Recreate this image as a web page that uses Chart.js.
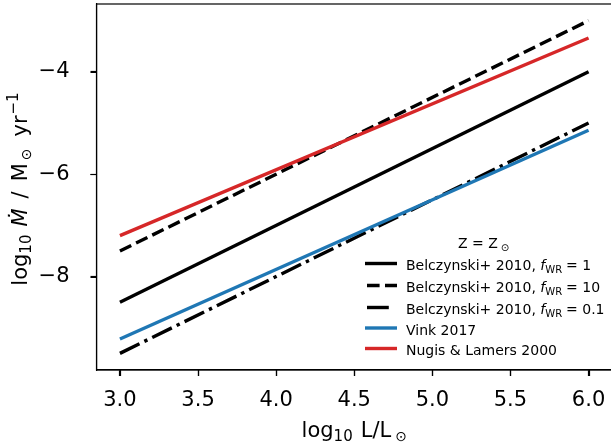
<!DOCTYPE html>
<html>
<head>
<meta charset="utf-8">
<script src="https://cdn.jsdelivr.net/npm/chart.js@4.4.0/dist/chart.umd.min.js"></script>
<style>
  html, body { margin: 0; padding: 0; background: #fff; overflow: hidden; }
</style>
</head>
<body>
<canvas id="chart" width="612" height="445"></canvas>
<script>
// log10 L/Lsun at the two ends of each line
const xPoints = [3.0, 6.0];
// log10 Mdot for each prescription
const belczynskiF1 = [-8.5, -4.0];
const belczynskiF10 = [-7.5, -3.0];
const belczynskiF01 = [-9.5, -5.0];
const vink2017 = [-9.22, -5.14];
const nugisLamers2000 = [-7.2, -3.34];

const seriesNames = ['Belczynski+ 2010', 'Belczynski+ 2010', 'Belczynski+ 2010', 'Vink 2017', 'Nugis & Lamers 2000'];
const fwrValues = ['1', '10', '0.1', null, null];
const xTicks = [3.0, 3.5, 4.0, 4.5, 5.0, 5.5, 6.0];
const yTicks = [-8, -6, -4];
const xRange = [2.85, 6.15];
const yRange = [-9.825, -2.675];

const FONT = '"DejaVu Sans", sans-serif';
const seriesValues = [belczynskiF1, belczynskiF10, belczynskiF01, vink2017, nugisLamers2000];
const seriesColors = ['#000000', '#000000', '#000000', '#1f77b4', '#d62728'];
const seriesDash = [[], [12.6, 5.4], [21.8, 5.4, 3.4, 5.4], [], []];
const LW = 3.4;

const datasets = seriesValues.map((vals, i) => ({
  label: seriesNames[i],
  data: xPoints.map((x, j) => ({ x: x, y: vals[j] })),
  borderColor: seriesColors[i],
  borderWidth: LW,
  borderDash: seriesDash[i],
  borderCapStyle: 'butt',
  pointRadius: 0,
  tension: 0,
  fill: false,
  order: 10 - i
}));

function fontOf(r) {
  return (r.it ? 'italic ' : '') + r.s + 'px ' + FONT;
}

// draw a row of text pieces (for sub/superscripts)
function drawRuns(ctx, runs, x, y, align) {
  let total = 0;
  runs.forEach(r => {
    ctx.font = fontOf(r);
    r.w = ctx.measureText(r.t).width;
    total += r.w + (r.gap || 0);
  });
  let cx = align === 'center' ? x - total / 2 : x;
  runs.forEach(r => {
    cx += r.gap || 0;
    ctx.font = fontOf(r);
    ctx.fillText(r.t, cx, y + (r.dy || 0));
    cx += r.w;
  });
}

const extras = {
  id: 'extras',
  afterDraw(chart) {
    const ctx = chart.ctx;
    const a = chart.chartArea;
    const sx = chart.scales.x, sy = chart.scales.y;
    ctx.save();
    // spines
    ctx.strokeStyle = '#000';
    ctx.lineWidth = 1.2;
    ctx.strokeRect(a.left, a.top, a.right - a.left, a.bottom - a.top);

    // tick marks
    ctx.beginPath();
    xTicks.forEach(v => {
      const px = Math.round(sx.getPixelForValue(v)) + 0.5;
      ctx.moveTo(px, a.bottom);
      ctx.lineTo(px, a.bottom + 6);
    });
    yTicks.forEach(v => {
      const py = Math.round(sy.getPixelForValue(v)) + 0.5;
      ctx.moveTo(a.left - 6, py);
      ctx.lineTo(a.left, py);
    });
    ctx.stroke();

    ctx.fillStyle = '#000';
    ctx.textBaseline = 'alphabetic';
    ctx.textAlign = 'left';

    // x title
    drawRuns(ctx, [
      { t: 'log', s: 21 },
      { t: '10', s: 15, dy: 4 },
      { t: 'L/L', s: 21, gap: 8 },
      { t: '\u2299', s: 14, dy: 4, gap: 4 }
    ], (a.left + a.right) / 2, 437, 'center');

    // y title
    ctx.save();
    ctx.translate(27, (a.top + a.bottom) / 2 + 2);
    ctx.rotate(-Math.PI / 2);
    drawRuns(ctx, [
      { t: 'log', s: 21 },
      { t: '10', s: 15, dy: 4 },
      { t: '\u1E40', s: 21, it: true, gap: 8 },
      { t: '/', s: 21, gap: 10 },
      { t: 'M', s: 21, gap: 10 },
      { t: '\u2299', s: 14, dy: 4, gap: 3 },
      { t: 'yr', s: 21, gap: 12 },
      { t: '\u22121', s: 15, dy: -9, gap: 1 }
    ], 0, 0, 'center');
    ctx.restore();

    // legend (no frame)
    ctx.fillStyle = '#000';
    drawRuns(ctx, [
      { t: 'Z = Z', s: 14 },
      { t: '\u2299', s: 10, dy: 3, gap: 3 }
    ], 483.5, 248, 'center');

    const rowY = [265, 287, 309, 329.5, 350];
    seriesNames.forEach((name, i) => {
      const y = rowY[i];
      const dash = seriesDash[i];
      ctx.strokeStyle = seriesColors[i];
      ctx.lineWidth = LW;
      ctx.lineCap = 'butt';
      ctx.setLineDash(dash);
      ctx.lineDashOffset = dash.length ? -2 : 0;
      ctx.beginPath();
      ctx.moveTo(365, y - 1.5);
      ctx.lineTo(dash.length === 4 ? 391 : 397, y - 1.5);
      ctx.stroke();
      ctx.setLineDash([]);

      ctx.fillStyle = '#000';
      const runs = [{ t: name + (fwrValues[i] ? ', ' : ''), s: 14 }];
      if (fwrValues[i]) {
        runs.push({ t: 'f', s: 14, it: true });
        runs.push({ t: 'WR', s: 10, dy: 3 });
        runs.push({ t: '= ' + fwrValues[i], s: 14, gap: 4 });
      }
      drawRuns(ctx, runs, 406, y + 5, 'left');
    });
    ctx.restore();
  }
};

const tickFont = { family: FONT, size: 21 };
const gridOpts = {
  display: true, drawOnChartArea: false, drawTicks: true,
  tickLength: 6, tickWidth: 1.2, tickColor: '#000'
};

new Chart(document.getElementById('chart'), {
  type: 'line',
  data: { datasets: datasets },
  plugins: [extras],
  options: {
    responsive: false,
    animation: false,
    layout: { padding: { top: 4, right: 0, bottom: 0, left: 0 } },
    plugins: { legend: { display: false }, tooltip: { enabled: false } },
    scales: {
      x: {
        type: 'linear',
        min: xRange[0],
        max: xRange[1],
        afterBuildTicks: s => { s.ticks = xTicks.map(v => ({ value: v })); },
        afterFit: s => { s.height = 75; s.paddingLeft = 0; s.paddingRight = 0; },
        ticks: {
          callback: v => v.toFixed(1),
          font: tickFont, color: '#000', padding: 12,
          maxRotation: 0, autoSkip: false
        },
        grid: gridOpts,
        border: { color: '#000', width: 1.2 }
      },
      y: {
        type: 'linear',
        min: yRange[0],
        max: yRange[1],
        afterBuildTicks: s => { s.ticks = yTicks.map(v => ({ value: v })); },
        afterFit: s => { s.width = 96.5; s.paddingTop = 0; s.paddingBottom = 0; },
        ticks: {
          callback: v => String(v).replace('-', '\u2212'),
          font: tickFont, color: '#000', padding: 21,
          autoSkip: false
        },
        grid: gridOpts,
        border: { color: '#000', width: 1.2 }
      }
    }
  }
});
</script>
</body>
</html>
